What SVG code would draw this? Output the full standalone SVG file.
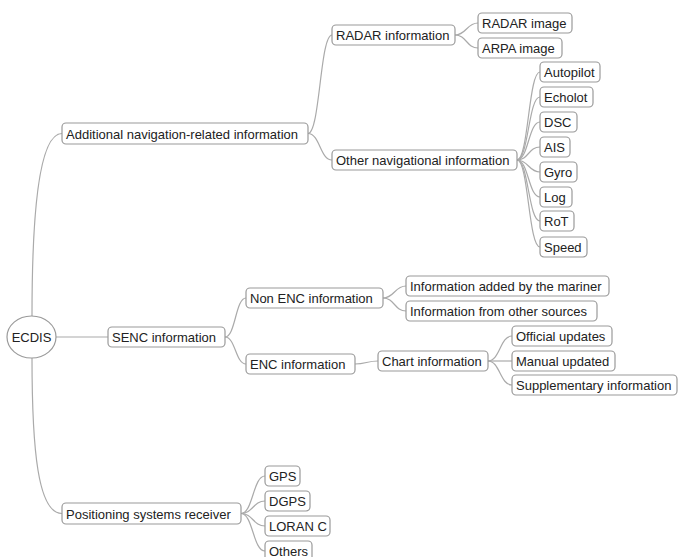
<svg xmlns="http://www.w3.org/2000/svg" width="678" height="557" viewBox="0 0 678 557">
<style>
.n rect, .n ellipse { fill:#fff; stroke:#9a9a9a; stroke-width:1.2; }
.n text { font-family:"Liberation Sans", Arial, sans-serif; font-size:13px; fill:#222; }
#connectors path { fill:none; stroke:#aaa; stroke-width:1.2; }
</style>
<rect width="678" height="557" fill="#fff"/>
<g id="connectors">
<path d="M32,316 C32,220 38,133.5 62,133.5"/>
<path d="M32,358 C32,450 38,513.5 62,513.5"/>
<path d="M56,337 L108,337"/>
<path d="M308,133.5 C320,133.5 320,35 332,35"/>
<path d="M308,133.5 C320,133.5 320,160 332,160"/>
<path d="M455,35 C466.5,35 466.5,23 478,23"/>
<path d="M455,35 C466.5,35 466.5,48 478,48"/>
<path d="M517,160 C528.5,160 528.5,72 540,72"/>
<path d="M517,160 C528.5,160 528.5,97 540,97"/>
<path d="M517,160 C528.5,160 528.5,122 540,122"/>
<path d="M517,160 C528.5,160 528.5,147 540,147"/>
<path d="M517,160 C528.5,160 528.5,172 540,172"/>
<path d="M517,160 C528.5,160 528.5,197 540,197"/>
<path d="M517,160 C528.5,160 528.5,221 540,221"/>
<path d="M517,160 C528.5,160 528.5,247 540,247"/>
<path d="M225,337 C235.5,337 235.5,298 246,298"/>
<path d="M225,337 C235.5,337 235.5,364 246,364"/>
<path d="M383,298 C394.5,298 394.5,286 406,286"/>
<path d="M383,298 C394.5,298 394.5,311 406,311"/>
<path d="M355,364 C366,364 367,361 378,361"/>
<path d="M488,361 C500,361 500,336 512,336"/>
<path d="M488,361 L512,361"/>
<path d="M488,361 C500,361 500,385 512,385"/>
<path d="M241,513.5 C253,513.5 253,476 265,476"/>
<path d="M241,513.5 C253,513.5 253,501 265,501"/>
<path d="M241,513.5 C253,513.5 253,526 265,526"/>
<path d="M241,513.5 C253,513.5 253,551 265,551"/>
</g>
<g id="ecdis" class="n"><ellipse cx="31.5" cy="337" rx="24.5" ry="21"/><text x="31.5" y="341.5" text-anchor="middle">ECDIS</text></g>
<g id="additional" class="n"><rect x="62" y="123" width="246" height="21" rx="4"/><text x="66" y="138.5">Additional navigation-related information</text></g>
<g id="radar-info" class="n"><rect x="332" y="25" width="123" height="20" rx="4"/><text x="336" y="40">RADAR information</text></g>
<g id="radar-image" class="n"><rect x="478" y="13" width="94" height="20" rx="4"/><text x="482" y="28">RADAR image</text></g>
<g id="arpa-image" class="n"><rect x="478" y="38" width="84" height="20" rx="4"/><text x="482" y="53">ARPA image</text></g>
<g id="other-nav" class="n"><rect x="332" y="150" width="185" height="20" rx="4"/><text x="336" y="165">Other navigational information</text></g>
<g id="autopilot" class="n"><rect x="540" y="62" width="60" height="20" rx="4"/><text x="544" y="77">Autopilot</text></g>
<g id="echolot" class="n"><rect x="540" y="87" width="53" height="20" rx="4"/><text x="544" y="102">Echolot</text></g>
<g id="dsc" class="n"><rect x="540" y="112" width="37" height="20" rx="4"/><text x="544" y="127">DSC</text></g>
<g id="ais" class="n"><rect x="540" y="137" width="30" height="20" rx="4"/><text x="544" y="152">AIS</text></g>
<g id="gyro" class="n"><rect x="540" y="162" width="37" height="20" rx="4"/><text x="544" y="177">Gyro</text></g>
<g id="log" class="n"><rect x="540" y="187" width="32" height="20" rx="4"/><text x="544" y="202">Log</text></g>
<g id="rot" class="n"><rect x="540" y="211" width="34" height="20" rx="4"/><text x="544" y="226">RoT</text></g>
<g id="speed" class="n"><rect x="540" y="237" width="47" height="20" rx="4"/><text x="544" y="252">Speed</text></g>
<g id="senc" class="n"><rect x="108" y="327" width="117" height="20" rx="4"/><text x="112" y="342">SENC information</text></g>
<g id="non-enc" class="n"><rect x="246" y="288" width="137" height="20" rx="4"/><text x="250" y="303">Non ENC information</text></g>
<g id="enc" class="n"><rect x="246" y="354" width="109" height="20" rx="4"/><text x="250" y="369">ENC information</text></g>
<g id="mariner" class="n"><rect x="406" y="276" width="203" height="20" rx="4"/><text x="410" y="291">Information added by the mariner</text></g>
<g id="other-sources" class="n"><rect x="406" y="301" width="191" height="20" rx="4"/><text x="410" y="316">Information from other sources</text></g>
<g id="chart" class="n"><rect x="378" y="351" width="110" height="20" rx="4"/><text x="382" y="366">Chart information</text></g>
<g id="official" class="n"><rect x="512" y="326" width="100" height="20" rx="4"/><text x="516" y="341">Official updates</text></g>
<g id="manual" class="n"><rect x="512" y="351" width="103" height="20" rx="4"/><text x="516" y="366">Manual updated</text></g>
<g id="supplementary" class="n"><rect x="512" y="375" width="165" height="20" rx="4"/><text x="516" y="390">Supplementary information</text></g>
<g id="positioning" class="n"><rect x="62" y="503" width="179" height="21" rx="4"/><text x="66" y="518.5">Positioning systems receiver</text></g>
<g id="gps" class="n"><rect x="265" y="466" width="35" height="20" rx="4"/><text x="269" y="481">GPS</text></g>
<g id="dgps" class="n"><rect x="265" y="491" width="45" height="20" rx="4"/><text x="269" y="506">DGPS</text></g>
<g id="loran" class="n"><rect x="265" y="516" width="65" height="20" rx="4"/><text x="269" y="531">LORAN C</text></g>
<g id="others" class="n"><rect x="265" y="541" width="47" height="20" rx="4"/><text x="269" y="556">Others</text></g>
</svg>
